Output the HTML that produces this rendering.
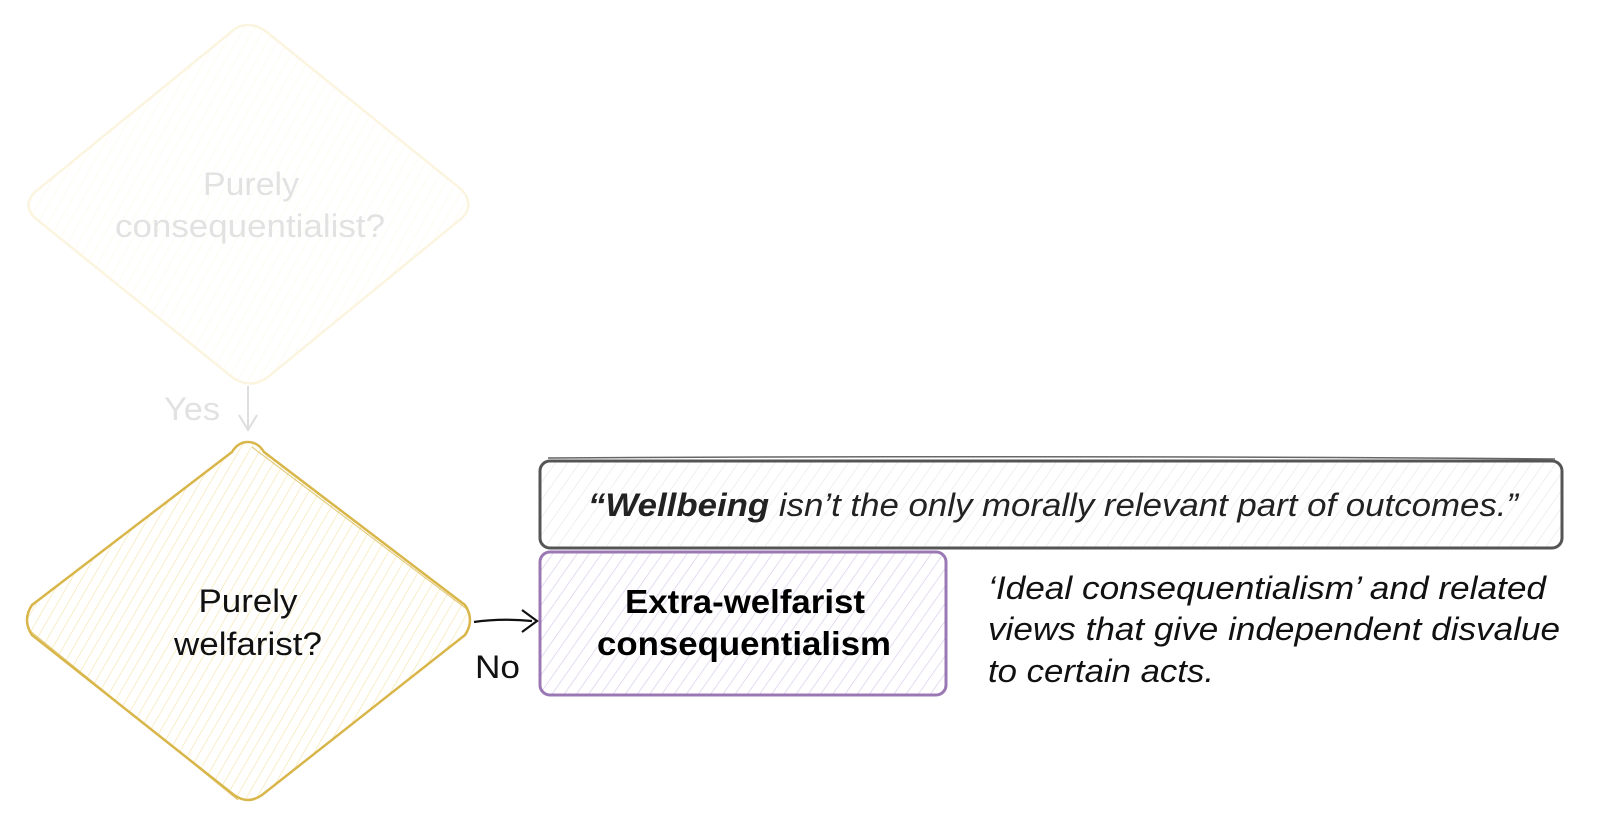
<!DOCTYPE html>
<html><head><meta charset="utf-8"><style>
html,body{margin:0;padding:0;background:#fff;}
svg{display:block;}
text{font-family:"Liberation Sans",Arial,sans-serif;}
</style></head><body>
<svg width="1600" height="825" viewBox="0 0 1600 825" xmlns="http://www.w3.org/2000/svg">
<defs>
<pattern id="hy" patternUnits="userSpaceOnUse" width="9" height="9" patternTransform="rotate(30)"><line x1="0" y1="0" x2="0" y2="9" stroke="#f3e3a6" stroke-width="1.2"/></pattern>
<pattern id="hy2" patternUnits="userSpaceOnUse" width="9" height="9" patternTransform="rotate(30)"><line x1="0" y1="0" x2="0" y2="9" stroke="#fcf7e8" stroke-width="1.2"/></pattern>
<pattern id="hp" patternUnits="userSpaceOnUse" width="10" height="10" patternTransform="rotate(35)"><line x1="0" y1="0" x2="0" y2="10" stroke="#d8c8e8" stroke-width="1.3"/></pattern>
<pattern id="hg" patternUnits="userSpaceOnUse" width="10" height="10" patternTransform="rotate(35)"><line x1="0" y1="0" x2="0" y2="10" stroke="#e6e6e6" stroke-width="1.2"/></pattern>
</defs>
<!-- top faded diamond -->
<path d="M248 25 Q258 25 268 33 L462 190 Q475 205 462 218 L268 377 Q250 390 232 377 L35 218 Q22 205 35 192 L230 33 Q238 25 248 25Z" fill="url(#hy2)" stroke="#fbf4df" stroke-width="2.5"/>
<text x="251" y="195" font-size="32" fill="#e2e2e2" text-anchor="middle" textLength="96" lengthAdjust="spacingAndGlyphs">Purely</text>
<text x="250" y="237" font-size="32" fill="#e2e2e2" text-anchor="middle" textLength="270" lengthAdjust="spacingAndGlyphs">consequentialist?</text>
<text x="164" y="420" font-size="32" fill="#e2e2e2" textLength="56" lengthAdjust="spacingAndGlyphs">Yes</text>
<line x1="248" y1="386" x2="248" y2="428" stroke="#dedede" stroke-width="2"/>
<path d="M239 415 L248 430 L257 415" fill="none" stroke="#dedede" stroke-width="2"/>
<!-- bottom diamond -->
<path d="M248 442 Q258 442 264 452 L465 605 Q475 620 465 635 L262 795 Q248 805 234 795 L32 635 Q22 620 32 605 L232 452 Q238 442 248 442Z" fill="url(#hy)" stroke="#d8b64a" stroke-width="2.5"/>
<path d="M252 447 L468 610 M29 630 L238 800" fill="none" stroke="#d8b64a" stroke-width="1.2" opacity="0.7"/>
<text x="248" y="612" font-size="32" fill="#111" text-anchor="middle" textLength="99" lengthAdjust="spacingAndGlyphs">Purely</text>
<text x="248" y="655" font-size="32" fill="#111" text-anchor="middle" textLength="148" lengthAdjust="spacingAndGlyphs">welfarist?</text>
<!-- arrow No -->
<path d="M474 622 Q500 618 532 621" fill="none" stroke="#111" stroke-width="2.2"/>
<path d="M522 610 L537 621 L522 632" fill="none" stroke="#111" stroke-width="2.2"/>
<text x="475" y="678" font-size="32" fill="#111" textLength="45" lengthAdjust="spacingAndGlyphs">No</text>
<!-- gray box -->
<rect x="540" y="461" width="1022" height="87" rx="10" fill="url(#hg)" stroke="#555" stroke-width="3"/>
<path d="M548 458 Q1050 455 1555 459" stroke="#666" stroke-width="1.5" fill="none"/>
<text x="1053" y="516" font-size="32" fill="#222" text-anchor="middle" font-style="italic" textLength="930" lengthAdjust="spacingAndGlyphs"><tspan font-weight="bold">“Wellbeing</tspan> isn’t the only morally relevant part of outcomes.”</text>
<!-- purple box -->
<rect x="540" y="552" width="406" height="143" rx="10" fill="url(#hp)" stroke="#9b78b4" stroke-width="3"/>
<text x="745" y="613" font-size="33" fill="#000" text-anchor="middle" font-weight="bold" textLength="240" lengthAdjust="spacingAndGlyphs">Extra-welfarist</text>
<text x="744" y="655" font-size="33" fill="#000" text-anchor="middle" font-weight="bold" textLength="294" lengthAdjust="spacingAndGlyphs">consequentialism</text>
<!-- side text -->
<text x="988" y="599" font-size="32" fill="#111" font-style="italic" textLength="558" lengthAdjust="spacingAndGlyphs">‘Ideal consequentialism’ and related</text>
<text x="988" y="640" font-size="32" fill="#111" font-style="italic" textLength="572" lengthAdjust="spacingAndGlyphs">views that give independent disvalue</text>
<text x="988" y="682" font-size="32" fill="#111" font-style="italic" textLength="226" lengthAdjust="spacingAndGlyphs">to certain acts.</text>
</svg>
</body></html>
